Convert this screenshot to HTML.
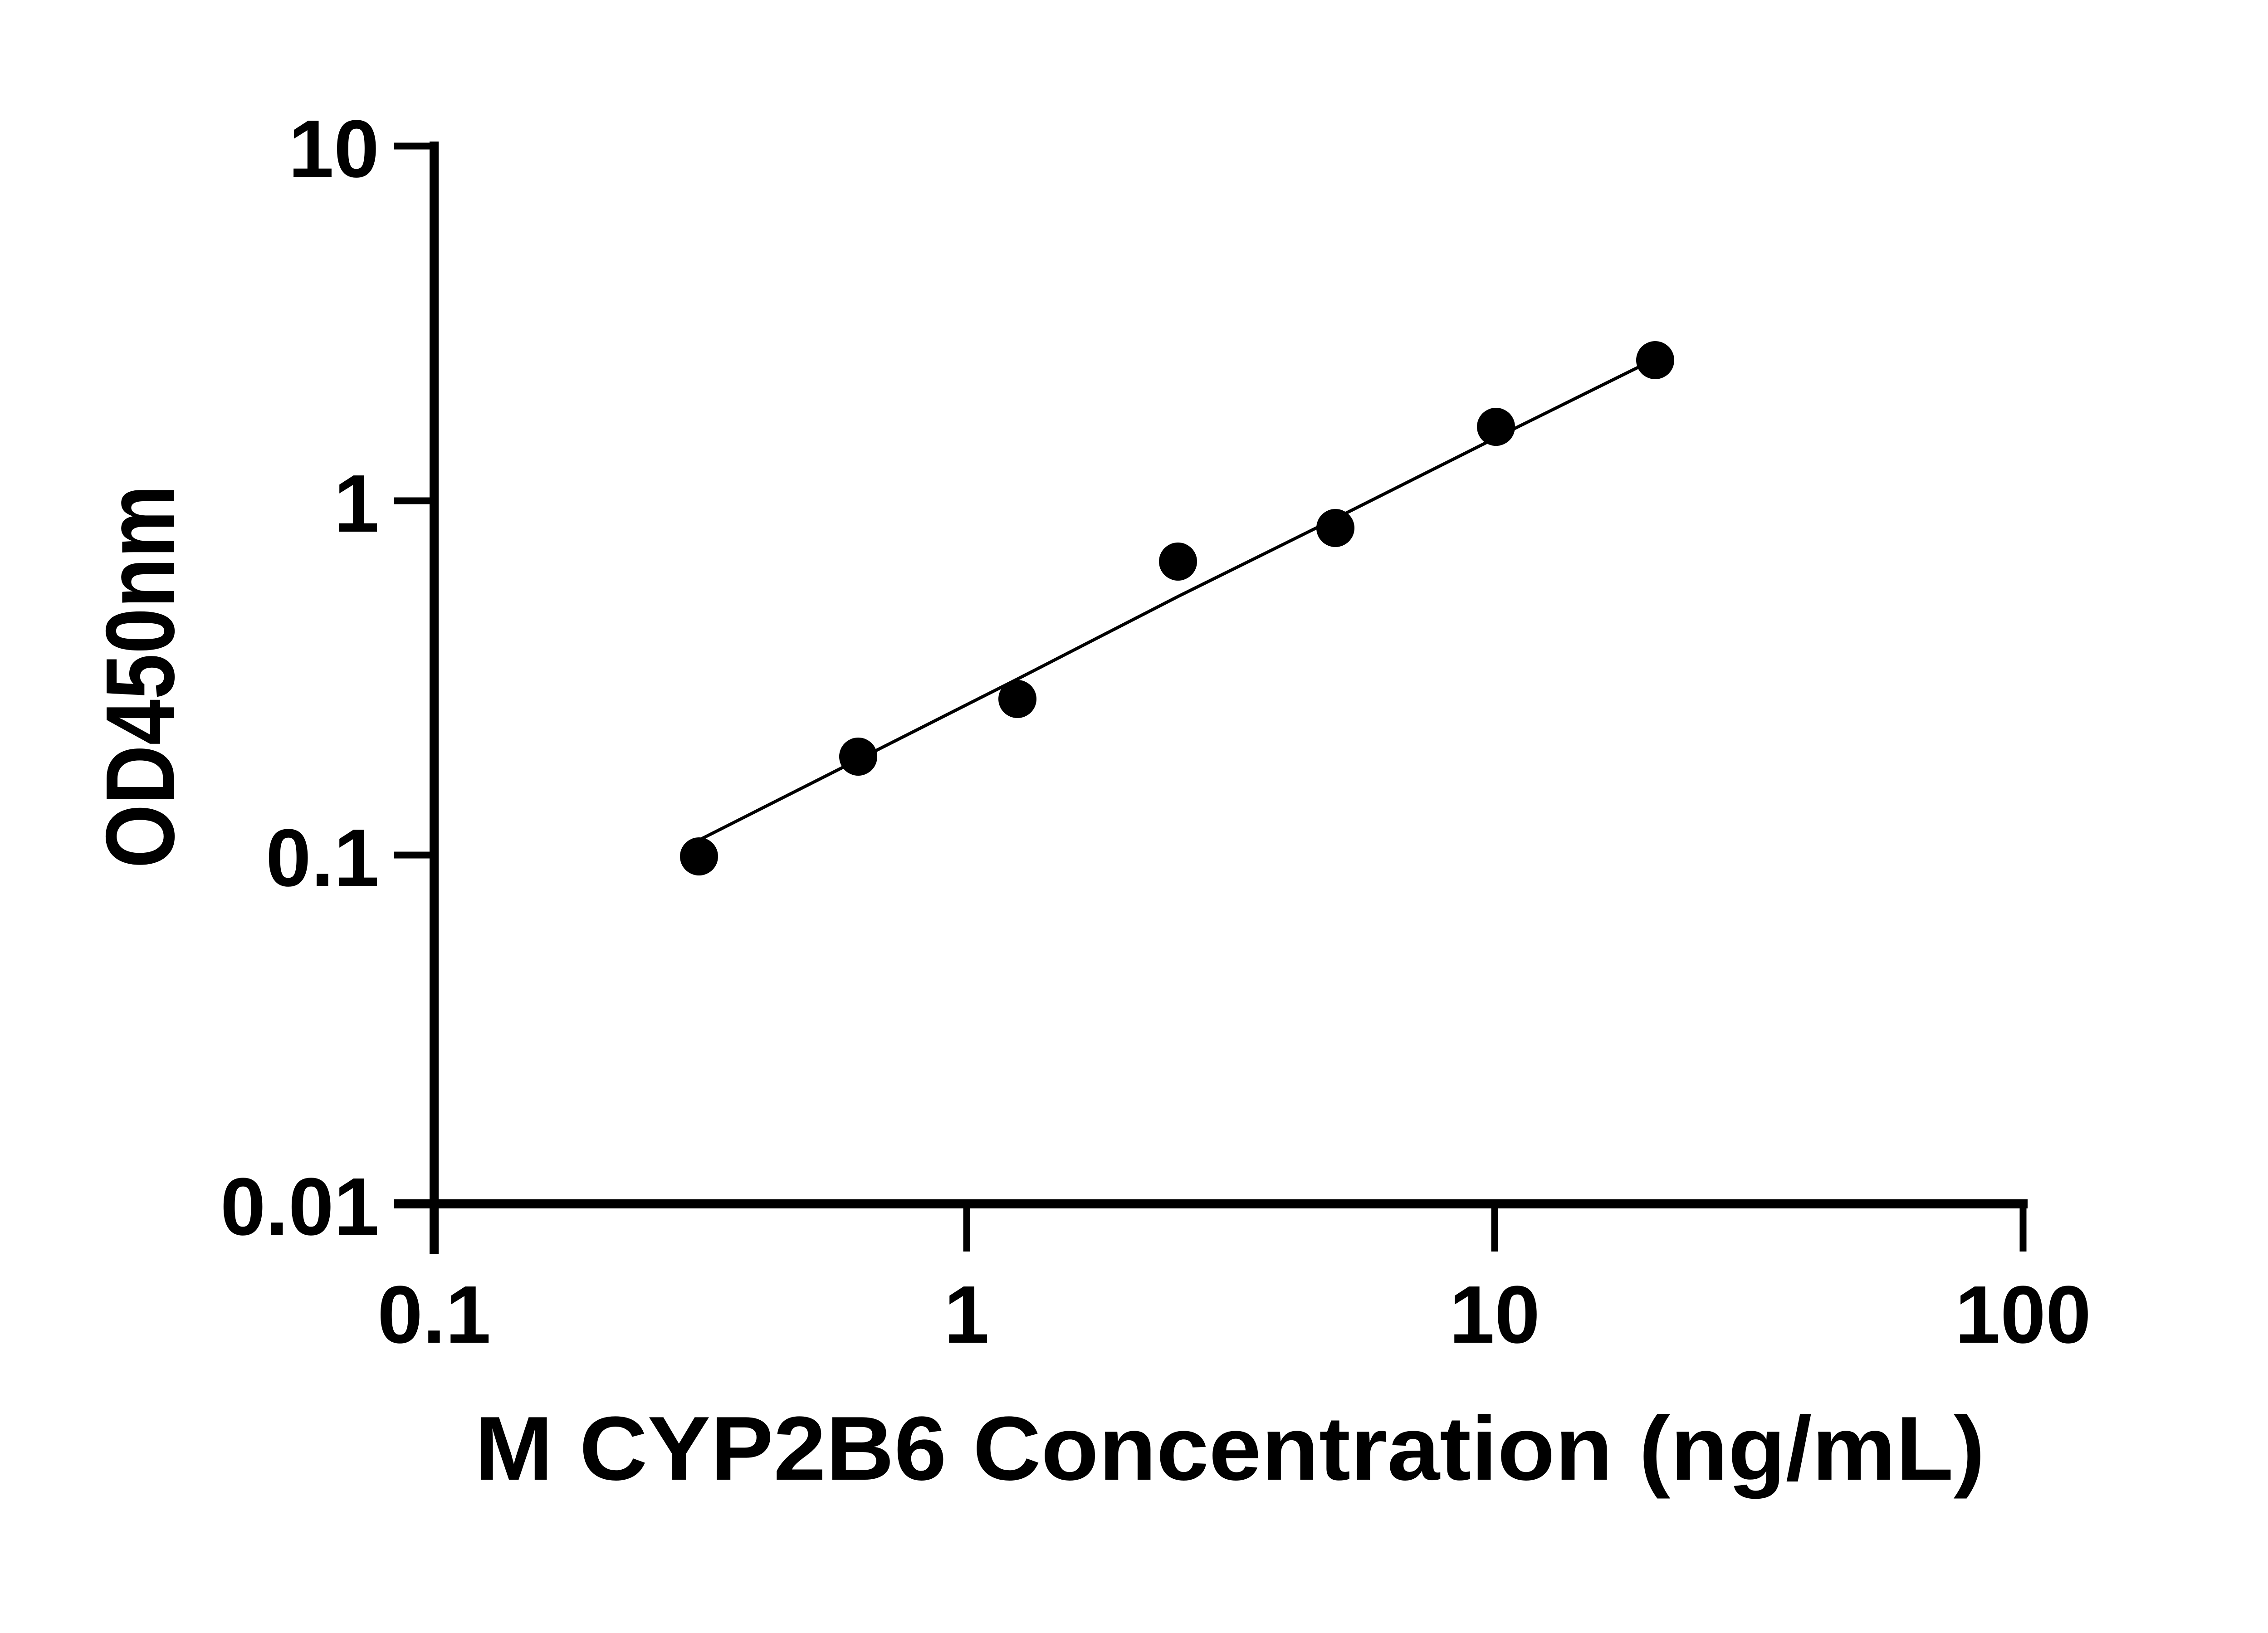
<!DOCTYPE html>
<html><head><style>html,body{margin:0;padding:0;background:#fff;}svg{display:block}</style></head>
<body>
<svg width="5142" height="3600" viewBox="0 0 5142 3600" xmlns="http://www.w3.org/2000/svg">
<g stroke="#000" fill="none" stroke-linecap="butt">
<line x1="957" y1="312" x2="957" y2="2765" stroke-width="20"/>
<line x1="868" y1="2654" x2="4470" y2="2654" stroke-width="20"/>
<line x1="868" y1="322" x2="957" y2="322" stroke-width="15"/>
<line x1="868" y1="1104" x2="957" y2="1104" stroke-width="15"/>
<line x1="868" y1="1885" x2="957" y2="1885" stroke-width="15"/>
<line x1="2131" y1="2654" x2="2131" y2="2759" stroke-width="15"/>
<line x1="3295" y1="2654" x2="3295" y2="2759" stroke-width="15"/>
<line x1="4460" y1="2645" x2="4460" y2="2759" stroke-width="15"/>
<polyline points="1541,1852 2243,1497 2597,1315 2944,1143 3298,965 3621,805" stroke-width="7" stroke-linejoin="round"/>
</g>
<g fill="#000">
<circle cx="1541" cy="1888" r="42"/>
<circle cx="1892" cy="1668" r="42"/>
<circle cx="2243" cy="1541" r="42"/>
<circle cx="2597" cy="1238" r="42"/>
<circle cx="2944" cy="1164" r="42"/>
<circle cx="3298" cy="941" r="42"/>
<circle cx="3649" cy="794" r="42"/>
</g>
<g font-family="Liberation Sans, sans-serif" font-weight="bold" font-size="180" fill="#000">
<text x="836" y="390" text-anchor="end">10</text>
<text x="836" y="1172" text-anchor="end">1</text>
<text x="836" y="1953" text-anchor="end">0.1</text>
<text x="836" y="2722" text-anchor="end">0.01</text>
<text x="957" y="2960" text-anchor="middle">0.1</text>
<text x="2131" y="2960" text-anchor="middle">1</text>
<text x="3295" y="2960" text-anchor="middle">10</text>
<text x="4460" y="2960" text-anchor="middle">100</text>
</g>
<text x="1046" y="3262" font-family="Liberation Sans, sans-serif" font-weight="bold" font-size="200" textLength="3330" lengthAdjust="spacingAndGlyphs">M CYP2B6 Concentration (ng/mL)</text>
<text transform="translate(383,1914) rotate(-90)" font-family="Liberation Sans, sans-serif" font-weight="bold" font-size="215" textLength="845" lengthAdjust="spacingAndGlyphs">OD450nm</text>
</svg>
</body></html>
